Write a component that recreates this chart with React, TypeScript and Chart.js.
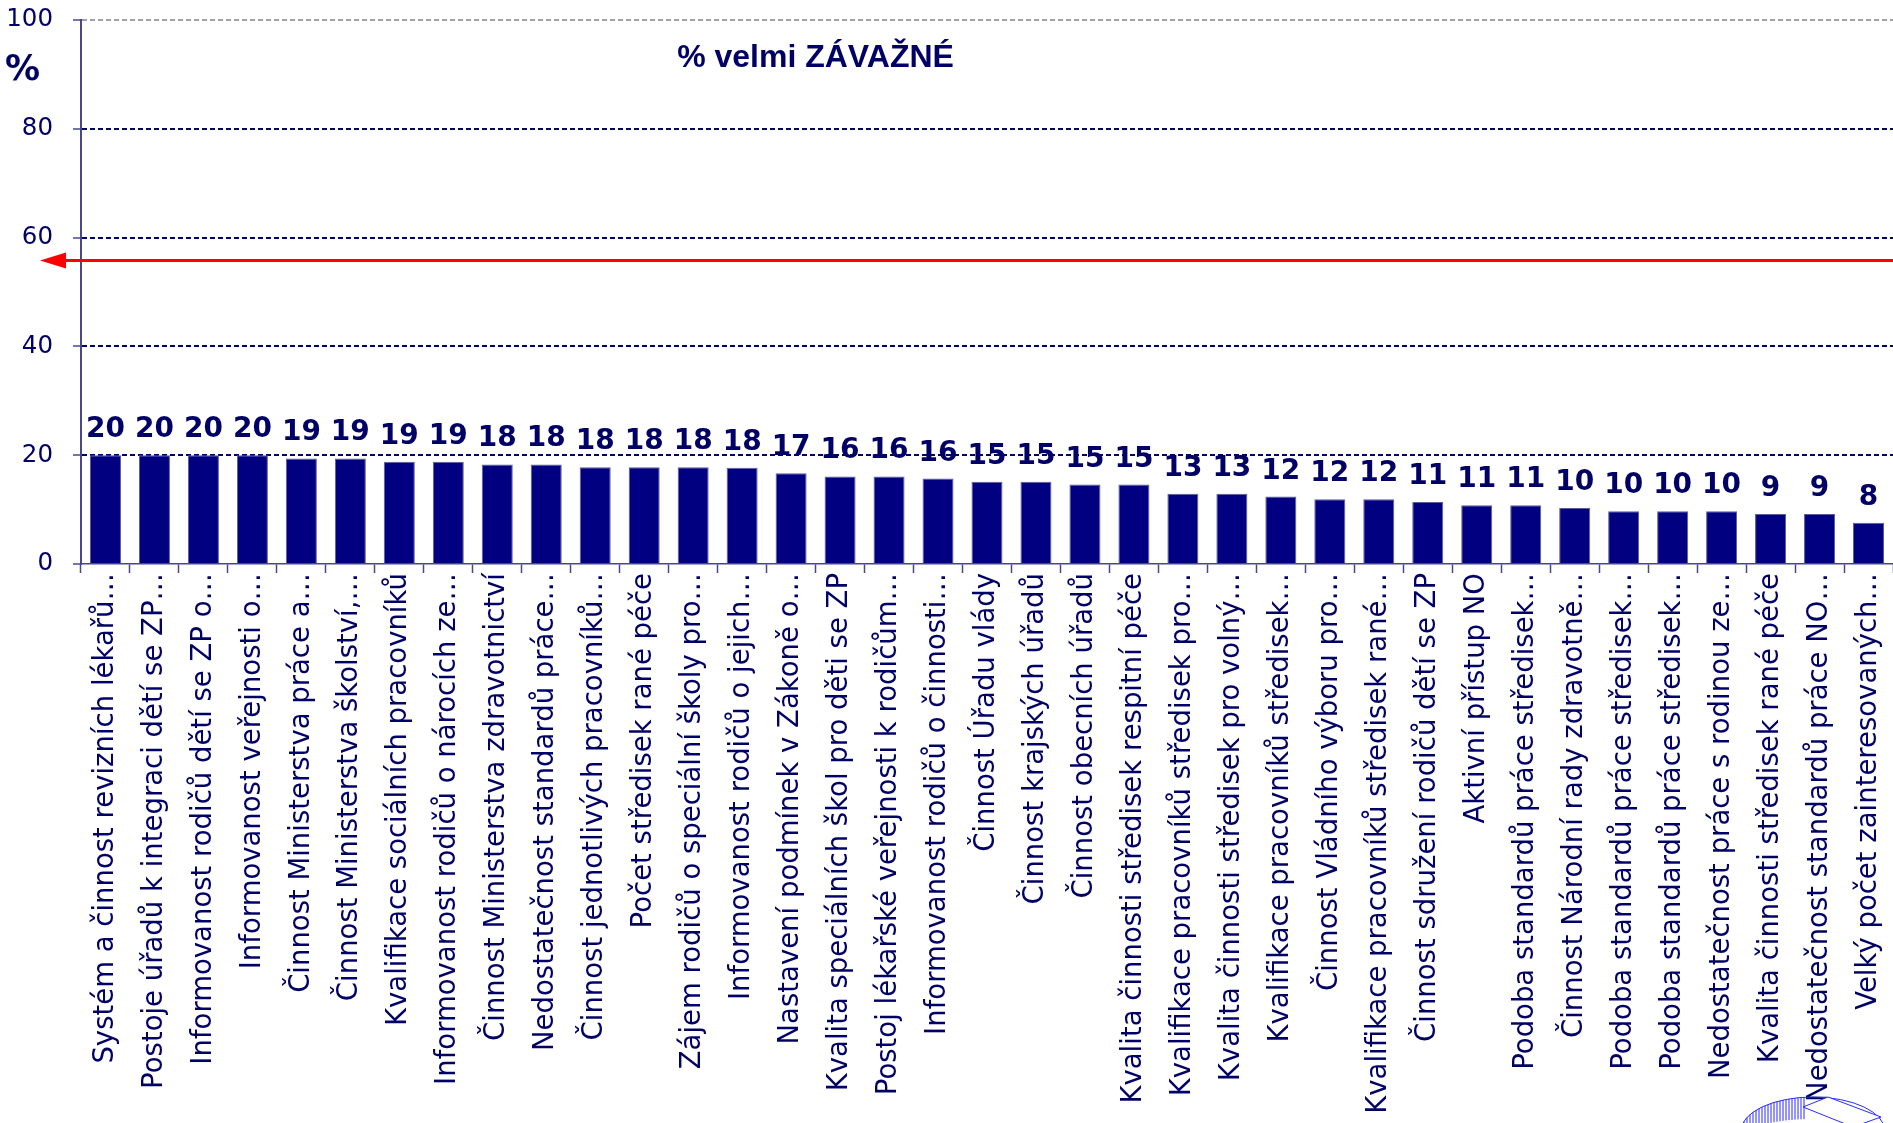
import React, { useEffect, useRef } from 'react';
import { Chart, registerables } from 'chart.js';

Chart.register(...registerables);

const categories: string[] = [
  'Systém a činnost revizních lékařů…',
  'Postoje úřadů k integraci dětí se ZP…',
  'Informovanost rodičů dětí se ZP o…',
  'Informovanost veřejnosti o…',
  'Činnost Ministerstva práce a…',
  'Činnost Ministerstva školství,…',
  'Kvalifikace sociálních pracovníků',
  'Informovanost rodičů o nárocích ze…',
  'Činnost Ministerstva zdravotnictví',
  'Nedostatečnost standardů práce…',
  'Činnost jednotlivých pracovníků…',
  'Počet středisek rané péče',
  'Zájem rodičů o speciální školy pro…',
  'Informovanost rodičů o jejich…',
  'Nastavení podmínek v Zákoně o…',
  'Kvalita speciálních škol pro děti se ZP',
  'Postoj lékařské veřejnosti k rodičům…',
  'Informovanost rodičů o činnosti…',
  'Činnost Úřadu vlády',
  'Činnost krajských úřadů',
  'Činnost obecních úřadů',
  'Kvalita činnosti středisek respitní péče',
  'Kvalifikace pracovníků středisek pro…',
  'Kvalita činnosti středisek pro volný…',
  'Kvalifikace pracovníků středisek…',
  'Činnost Vládního výboru pro…',
  'Kvalifikace pracovníků středisek rané…',
  'Činnost sdružení rodičů dětí se ZP',
  'Aktivní přístup NO',
  'Podoba standardů práce středisek…',
  'Činnost Národní rady zdravotně…',
  'Podoba standardů práce středisek…',
  'Podoba standardů práce středisek…',
  'Nedostatečnost práce s rodinou ze…',
  'Kvalita činnosti středisek rané péče',
  'Nedostatečnost standardů práce NO…',
  'Velký počet zainteresovaných…',
];

const values: number[] = [
  20.0, 20.0, 20.0, 20.0, 19.4, 19.4, 18.8, 18.8, 18.3, 18.3,
  17.8, 17.8, 17.8, 17.7, 16.7, 16.1, 16.1, 15.7, 15.1, 15.1,
  14.6, 14.6, 12.9, 12.9, 12.4, 11.9, 11.9, 11.4, 10.8, 10.8,
  10.3, 9.7, 9.7, 9.7, 9.2, 9.2, 7.6,
];

const valueLabels: string[] = [
  '20', '20', '20', '20', '19', '19', '19', '19', '18', '18',
  '18', '18', '18', '18', '17', '16', '16', '16', '15', '15',
  '15', '15', '13', '13', '12', '12', '12', '11', '11', '11',
  '10', '10', '10', '10', '9', '9', '8',
];

const yMin = 0;
const yMax = 100;
const yStep = 20;
const referenceLevel = 55.8;
const chartTitle = '% velmi ZÁVAŽNÉ';
const unitLabel = '%';

const NAVY = '#000080';
const TEXT = '#000066';
const AXIS = '#47478a';

const W = 1893;
const H = 1123;

const overlayPlugin = {
  id: 'overlay',
  afterDatasetsDraw(chart: any) {
    const ctx = chart.ctx;
    const meta = chart.getDatasetMeta(0);
    ctx.save();
    ctx.font = 'bold 28px "DejaVu Sans"';
    ctx.fillStyle = TEXT;
    ctx.textAlign = 'center';
    ctx.textBaseline = 'alphabetic';
    meta.data.forEach((bar: any, i: number) => {
      ctx.fillText(valueLabels[i], bar.x, bar.y - 18);
    });
    ctx.restore();
  },
  afterDraw(chart: any) {
    const ctx = chart.ctx;
    const area = chart.chartArea;
    const ys = chart.scales.y;

    // reference arrow line
    const ry = ys.getPixelForValue(referenceLevel);
    ctx.save();
    ctx.strokeStyle = '#ff0000';
    ctx.fillStyle = '#ff0000';
    ctx.lineWidth = 3;
    ctx.beginPath();
    ctx.moveTo(area.left - 18, ry);
    ctx.lineTo(chart.width, ry);
    ctx.stroke();
    ctx.beginPath();
    ctx.moveTo(area.left - 41, ry);
    ctx.lineTo(area.left - 15, ry - 8);
    ctx.lineTo(area.left - 15, ry + 8);
    ctx.closePath();
    ctx.fill();
    ctx.restore();

    // title
    ctx.save();
    ctx.font = 'bold 32px "Liberation Sans", Arial, sans-serif';
    ctx.fillStyle = TEXT;
    ctx.textAlign = 'left';
    ctx.textBaseline = 'alphabetic';
    ctx.fillText(chartTitle, area.left + (area.right - area.left) * 0.329, ys.getPixelForValue(91.4));
    ctx.restore();

    // unit label
    ctx.save();
    ctx.font = 'bold 35px "DejaVu Sans"';
    ctx.fillStyle = TEXT;
    ctx.textAlign = 'left';
    ctx.textBaseline = 'alphabetic';
    ctx.fillText(unitLabel, 5, ys.getPixelForValue(88.9));
    ctx.restore();

    // logo (decoration) bottom right
    ctx.save();
    const cx = chart.width - 80;
    const cy = chart.height + 8;
    ctx.beginPath();
    ctx.rect(0, 0, chart.width, chart.height);
    ctx.clip();
    ctx.strokeStyle = '#2b2bff';
    ctx.lineWidth = 1;
    for (let x = cx - 72; x < cx - 8; x += 3) {
      const t = (x - cx) / 72;
      const yo = cy - 34 * Math.sqrt(Math.max(0, 1 - t * t));
      const yi = cy - 20 * Math.sqrt(Math.max(0, 1 - t * t));
      ctx.beginPath();
      ctx.moveTo(x, yo);
      ctx.lineTo(x, yi + 8);
      ctx.stroke();
    }
    ctx.beginPath();
    ctx.ellipse(cx, cy, 72, 34, 0, Math.PI, 2 * Math.PI);
    ctx.stroke();
    ctx.beginPath();
    ctx.moveTo(cx - 10, cy - 24);
    ctx.lineTo(cx + 15, cy - 34);
    ctx.lineTo(cx + 68, cy - 14);
    ctx.lineTo(cx + 40, cy - 4);
    ctx.closePath();
    ctx.fillStyle = '#ffffff';
    ctx.fill();
    ctx.stroke();
    ctx.fillStyle = '#1a1aff';
    ctx.beginPath();
    ctx.ellipse(cx - 30, cy + 2, 18, 6, 0, 0, 2 * Math.PI);
    ctx.fill();
    ctx.restore();
  },
};

export default function App() {
  const ref = useRef<HTMLCanvasElement | null>(null);

  useEffect(() => {
    if (!ref.current) return;
    const chart = new Chart(ref.current, {
      type: 'bar',
      data: {
        labels: categories,
        datasets: [
          {
            data: values,
            backgroundColor: NAVY,
            borderColor: '#5c5c9c',
            borderWidth: 1,
            barPercentage: 0.633,
            categoryPercentage: 1,
          },
        ],
      },
      options: {
        responsive: false,
        maintainAspectRatio: false,
        animation: false,
        layout: { padding: { top: 20, left: 0, right: 0, bottom: 0 } },
        plugins: {
          legend: { display: false },
          tooltip: { enabled: false },
          title: { display: false },
        },
        scales: {
          x: {
            grid: {
              display: true,
              drawOnChartArea: false,
              drawTicks: true,
              tickLength: 9,
              tickColor: AXIS,
              tickWidth: 1.5,
              offset: true,
            },
            border: { display: true, color: AXIS, width: 1.5 },
            ticks: {
              autoSkip: false,
              minRotation: 90,
              maxRotation: 90,
              padding: 0,
              color: TEXT,
              font: { family: '"DejaVu Sans"', size: 27.5 },
            },
            afterFit: (s: any) => {
              s.height = 559;
              s.paddingLeft = 0;
              s.paddingRight = 0;
            },
          } as any,
          y: {
            min: yMin,
            max: yMax,
            ticks: {
              stepSize: yStep,
              padding: 20,
              color: TEXT,
              font: { family: '"DejaVu Sans"', size: 24.5 },
            },
            grid: {
              color: (c: any) => {
                const v = c.tick?.value;
                if (v === yMax) return '#a0a0aa';
                if (v === yMin) return 'rgba(0,0,0,0)';
                return TEXT;
              },
              lineWidth: 2,
              drawTicks: true,
              tickLength: 8,
              tickColor: AXIS,
              tickWidth: 1.5,
              tickBorderDash: [],
            },
            border: { display: true, color: AXIS, width: 2, dash: [5, 3] },
            afterFit: (s: any) => {
              s.width = 81;
              s.paddingTop = 0;
              s.paddingBottom = 0;
            },
          } as any,
        },
      },
      plugins: [overlayPlugin],
    });
    return () => chart.destroy();
  }, []);

  return (
    <div style={{ position: 'fixed', left: 0, top: 0, width: W, height: H, background: '#ffffff' }}>
      <canvas ref={ref} width={W} height={H} style={{ display: 'block', width: W, height: H }} />
    </div>
  );
}
